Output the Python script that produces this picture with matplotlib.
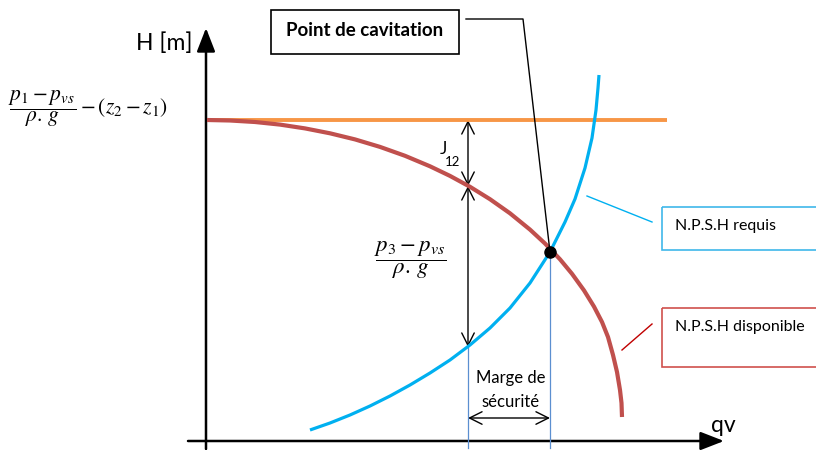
import matplotlib
matplotlib.use("Agg")
import matplotlib.pyplot as plt
from matplotlib.patches import FancyArrowPatch, Rectangle

plt.rcParams['font.family'] = ['Lato', 'DejaVu Sans']
plt.rcParams['mathtext.fontset'] = 'stix'

# ---- data (pixel-space schematic) ----
npsh_dispo_q = [207, 230, 255, 280, 305, 330, 355, 380, 405, 430, 450, 470, 490, 510, 530, 545,
                560, 572, 584, 594, 602, 608, 613, 617, 620, 621.5, 622]
npsh_dispo_h = [120, 120.5, 122, 124.6, 128.4, 133.3, 139.4, 146.9, 155.8, 166.3, 175.9, 186.8, 199.2,
                213.3, 229.6, 243.5, 259.3, 273.8, 290.4, 306.6, 322, 337, 355, 372, 390, 403, 417]

npsh_requis_q = [310, 330, 350, 370, 390, 410, 430, 450, 470, 490, 510, 530, 550, 565, 575, 585, 592, 596, 598, 599]
npsh_requis_h = [430, 423, 415, 406, 396, 385, 373, 360, 345, 328, 308, 283, 252, 222, 199, 168, 138, 110, 88, 75]

h_level = 120          # level of (p1 - pvs)/rho.g - (z2 - z1)
q_start, q_end = 207, 667
cav_q, cav_h = 550, 252   # cavitation point
q_ref, h_ref_dispo, h_ref_requis = 468, 186, 347

fig = plt.figure(figsize=(8.16, 4.5), dpi=100)
ax = fig.add_axes([0, 0, 1, 1])
ax.set_xlim(0, 816)
ax.set_ylim(450, 0)
ax.axis('off')

# axes arrows
ax.add_patch(FancyArrowPatch((206, 449), (206, 28), arrowstyle='-|>,head_length=0.9,head_width=0.35',
                             mutation_scale=16, color='black', lw=1.8, shrinkA=0, shrinkB=0))
ax.add_patch(FancyArrowPatch((188, 441), (724, 441), arrowstyle='-|>,head_length=0.9,head_width=0.35',
                             mutation_scale=16, color='black', lw=1.8, shrinkA=0, shrinkB=0))

# thin blue verticals
ax.plot([q_ref, q_ref], [h_ref_requis, 448], color='#5b8fd0', lw=0.9)
ax.plot([cav_q, cav_q], [cav_h, 448], color='#5b8fd0', lw=0.9)

# orange level
ax.plot([q_start, q_end], [h_level, h_level], color='#f79646', lw=2.8, solid_capstyle='butt')

# curves
ax.plot(npsh_dispo_q, npsh_dispo_h, color='#c0504d', lw=3.0, solid_capstyle='butt', solid_joinstyle='round')
ax.plot(npsh_requis_q, npsh_requis_h, color='#00b0f0', lw=2.3, solid_capstyle='butt', solid_joinstyle='round')

# double arrows
def darrow(p1, p2):
    ax.add_patch(FancyArrowPatch(p1, p2, arrowstyle='<->,head_length=0.5,head_width=0.25',
                                 mutation_scale=18, color='black', lw=1.0, shrinkA=0, shrinkB=0))
darrow((q_ref, h_level), (q_ref, h_ref_dispo))
darrow((q_ref, h_ref_dispo), (q_ref, h_ref_requis))
darrow((q_ref, 418), (cav_q, 418))

# cavitation point + leader
ax.plot([cav_q, 523, 466], [cav_h, 19, 19], color='black', lw=1.0)
ax.plot([cav_q], [cav_h], 'o', color='black', ms=8)

# boxes
ax.add_patch(Rectangle((271, 10), 188, 44, fill=True, facecolor='white', edgecolor='black', lw=1.2))
ax.text(365, 31, 'Point de cavitation', ha='center', va='center', fontsize=13.5, fontweight='bold')

ax.add_patch(Rectangle((662, 207), 160, 43, fill=False, edgecolor='#40b8ea', lw=1.2))
ax.text(675, 226, 'N.P.S.H requis', ha='left', va='center', fontsize=11.5)
ax.plot([587, 652], [196, 222], color='#00b0f0', lw=1.0)

ax.add_patch(Rectangle((662, 308), 160, 59, fill=False, edgecolor='#d0504d', lw=1.2))
ax.text(675, 327, 'N.P.S.H disponible', ha='left', va='center', fontsize=11.5)
ax.plot([652, 622], [324, 350], color='#c00000', lw=1.0)

# labels
ax.text(192, 43, 'H [m]', ha='right', va='center', fontsize=16.5)
ax.text(711, 425, 'qv', ha='left', va='center', fontsize=16.5)
ax.text(443, 149, 'J', ha='center', va='center', fontsize=12.5)
ax.text(445, 162, '12', ha='left', va='center', fontsize=9.5)
ax.text(511, 378, 'Marge de', ha='center', va='center', fontsize=12)
ax.text(511, 402, 'sécurité', ha='center', va='center', fontsize=12)

ax.text(8, 109, r'$\dfrac{p_1 - p_{vs}}{\rho.\,g} - (z_2 - z_1)$', ha='left', va='center', fontsize=15.5)
ax.text(410, 260, r'$\dfrac{p_3 - p_{vs}}{\rho.\,g}$', ha='center', va='center', fontsize=16.5)

fig.savefig('out.png', dpi=100)
